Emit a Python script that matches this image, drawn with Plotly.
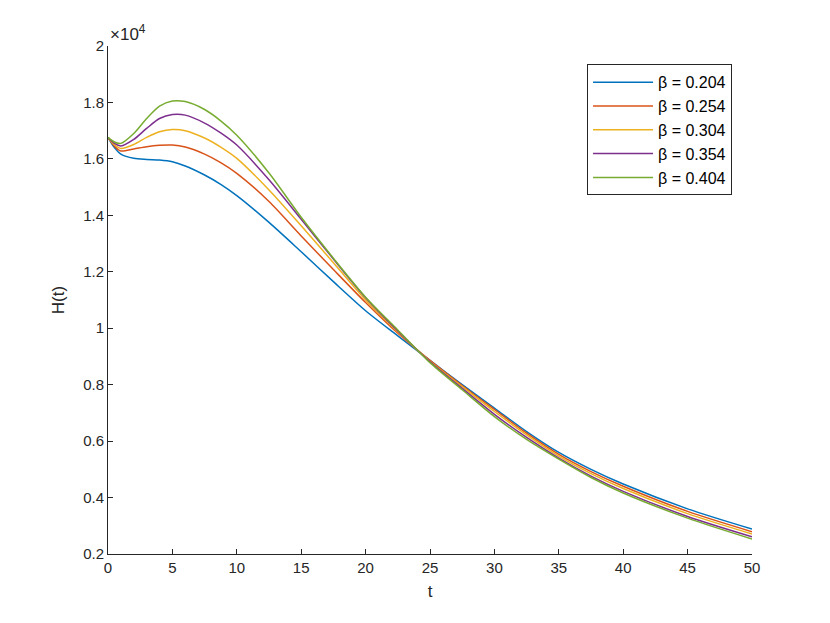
import plotly.graph_objects as go

t = [0, 0.5, 1, 2, 3, 4, 5, 6, 7.5, 8.75, 10, 12.5, 15, 17.5, 20, 22.5, 25, 27.5, 30, 32.5,
     35, 37.5, 40, 45, 50]

H_0204 = [16760, 16400, 16170, 16020, 15980, 15960, 15900, 15750, 15430, 15100, 14700, 13750, 12710,
          11650, 10620, 9730, 8860, 8000, 7170, 6340, 5600, 5000, 4480, 3600, 2885]
H_0254 = [16760, 16450, 16280, 16350, 16430, 16480, 16490, 16420, 16170, 15870, 15490, 14490, 13270,
          12080, 10910, 9820, 8860, 7970, 7120, 6280, 5530, 4920, 4400, 3510, 2790]
H_0304 = [16760, 16500, 16370, 16510, 16760, 16960, 17040, 17000, 16740, 16420, 16020, 14900, 13630,
          12320, 11000, 9870, 8830, 7930, 7050, 6220, 5470, 4850, 4320, 3430, 2710]
H_0354 = [16760, 16550, 16460, 16690, 17080, 17430, 17570, 17550, 17270, 16920, 16490, 15260, 13860,
          12450, 11080, 9900, 8810, 7870, 6950, 6130, 5400, 4760, 4220, 3330, 2610]
H_0404 = [16760, 16600, 16550, 16900, 17430, 17870, 18050, 18030, 17750, 17350, 16840, 15500, 13930,
          12480, 11100, 9940, 8780, 7820, 6870, 6060, 5360, 4710, 4160, 3270, 2530]

betas = ["0.204", "0.254", "0.304", "0.354", "0.404"]
series = [H_0204, H_0254, H_0304, H_0354, H_0404]
colors = ["#0072BD", "#D95319", "#EDB120", "#7E2F8E", "#77AC30"]

fig = go.Figure()
for b, h, c in zip(betas, series, colors):
    fig.add_trace(go.Scatter(
        x=t,
        y=[v / 1e4 for v in h],
        mode="lines",
        line=dict(color=c, width=1.5, shape="spline", smoothing=0.8),
        name="β = " + b
    ))

axis_style = dict(
    showline=True,
    linecolor="#262626",
    linewidth=1,
    ticks="inside",
    ticklen=5,
    tickcolor="#262626",
    showgrid=False,
    zeroline=False,
    tickfont=dict(size=15, color="#262626"),
    mirror=False
)

fig.update_layout(
    width=830,
    height=623,
    margin=dict(l=100, r=86, t=38, b=77),
    paper_bgcolor="white",
    plot_bgcolor="white",
    font=dict(family="Liberation Sans, Arial, sans-serif", color="#262626"),
    xaxis=dict(axis_style, range=[0, 50], tickvals=list(range(0, 51, 5)),
               title=dict(text="t", font=dict(size=17), standoff=10)),
    yaxis=dict(axis_style, range=[0.2, 2],
               tickvals=[0.2, 0.4, 0.6, 0.8, 1, 1.2, 1.4, 1.6, 1.8, 2],
               ticktext=["0.2", "0.4", "0.6", "0.8", "1", "1.2", "1.4", "1.6", "1.8", "2"],
               title=dict(text="H(t)", font=dict(size=17), standoff=14)),
    legend=dict(
        x=0.969, y=0.964, xanchor="right", yanchor="top",
        bordercolor="#262626", borderwidth=1, bgcolor="white",
        font=dict(size=16, color="#000000"),
        itemwidth=60,
        tracegroupgap=0
    ),
    showlegend=True,
    annotations=[dict(
        text="×10<sup>4</sup>", xref="paper", yref="paper", x=0, y=1,
        xanchor="left", yanchor="bottom", showarrow=False,
        font=dict(size=17, color="#262626")
    )]
)

fig.write_html("out.html")
